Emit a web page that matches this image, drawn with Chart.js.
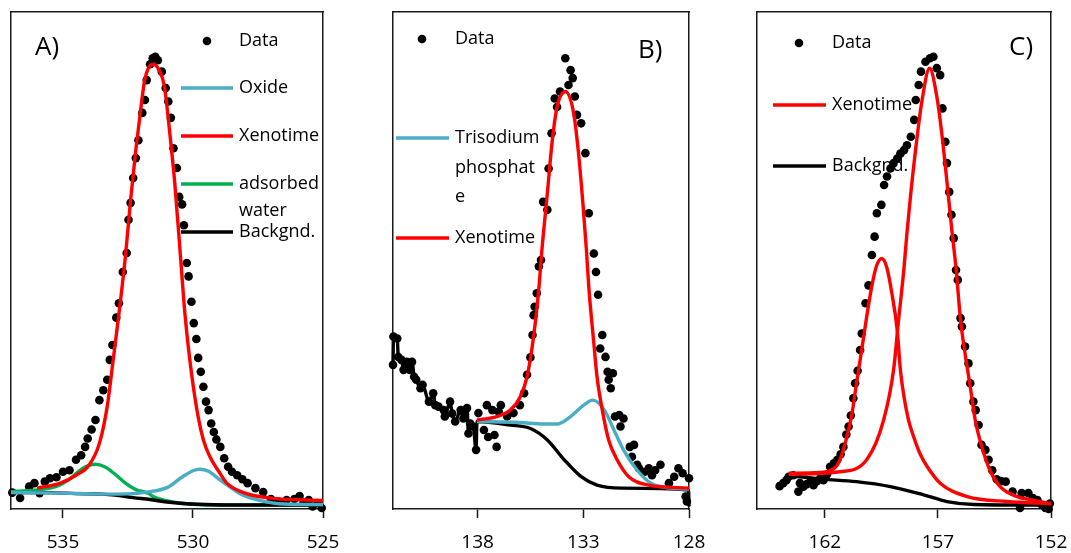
<!DOCTYPE html>
<html>
<head>
<meta charset="utf-8">
<title>XPS fits</title>
<script src="https://cdn.jsdelivr.net/npm/chart.js@4.4.1/dist/chart.umd.min.js"></script>
<style>
    html, body { margin: 0; padding: 0; background: #fff; }
    #wrap { position: relative; width: 1071px; height: 553px; overflow: hidden; }
    canvas { position: absolute; top: 0; }
</style>
</head>
<body>
<div id="wrap">
    <canvas id="panelA" width="350" height="553" style="left:0px"></canvas>
    <canvas id="panelB" width="360" height="553" style="left:350px"></canvas>
    <canvas id="panelC" width="361" height="553" style="left:710px"></canvas>
</div>
<script>
(function () {

    // ---- panel A (O 1s) ----
    const aTicks = [525, 530, 535];
    const aLabels = ['Data', 'Oxide', 'Xenotime', ['adsorbed', 'water'], 'Backgnd.'];
    const aData = [
        [536.95, 3.3], [536.65, 2.2], [536.3, 4.5], [536.1, 5.2], [535.9, 3.2], [535.7, 5.5], [535.5, 6.2],
        [535.25, 6.4], [535.0, 7.5], [534.75, 7.8], [534.5, 9.9], [534.3, 10.8], [534.15, 12.5], [534.05, 14.2],
        [533.9, 16.0], [533.75, 17.9], [533.6, 21.9], [533.45, 23.9], [533.3, 26.0], [533.2, 30.0], [533.1, 33.0],
        [532.95, 38.5], [532.85, 41.4], [532.7, 47.7], [532.55, 51.5], [532.48, 58.2], [532.4, 61.6], [532.3, 66.6],
        [532.2, 70.6], [532.1, 74.2], [531.95, 79.7], [531.85, 82.3], [531.78, 86.3], [531.65, 89.5], [531.55, 90.7],
        [531.45, 91.0], [531.35, 90.3], [531.2, 88.0], [531.05, 84.7], [530.95, 82.0], [530.85, 78.7], [530.75, 72.6],
        [530.62, 68.6], [530.53, 62.8], [530.42, 61.3], [530.35, 57.1], [530.24, 49.5], [530.17, 46.8], [530.06, 41.7],
        [529.97, 37.4], [529.87, 34.2], [529.8, 30.4], [529.7, 27.6], [529.6, 24.6], [529.5, 21.6], [529.4, 19.9],
        [529.3, 17.2], [529.2, 15.5], [529.1, 14.0], [528.95, 12.5], [528.8, 10.2], [528.65, 8.5], [528.5, 7.5],
        [528.3, 6.8], [528.1, 6.0], [527.9, 5.2], [527.6, 4.2], [527.3, 3.4], [527.0, 2.0], [526.7, 1.5],
        [526.4, 1.8], [526.1, 2.0], [525.9, 2.6], [525.75, 1.3], [525.55, 1.8], [525.4, 0.5], [525.2, 1.2], [525.05, 0.2]
    ];
    const aOxide = [
        [537.0, 3.3], [535.0, 3.2], [533.5, 3.0], [532.3, 3.1], [531.8, 3.4], [531.0, 4.3], [530.4, 6.5],
        [530.0, 7.7], [529.75, 8.0], [529.4, 7.6], [529.0, 6.0], [528.6, 4.5], [528.1, 2.8], [527.4, 1.7],
        [526.5, 1.0], [525.0, 0.9]
    ];
    const aXenotime = [
        [536.0, 4.2], [535.1, 5.2], [534.5, 6.8], [534.0, 8.8], [533.6, 13.2], [533.3, 20.6], [533.07, 30.0],
        [532.8, 41.4], [532.6, 50.8], [532.4, 62.2], [532.2, 72.2], [532.0, 80.9], [531.85, 86.5], [531.54, 89.5],
        [531.3, 88.3], [531.1, 85.0], [530.9, 76.0], [530.7, 65.5], [530.5, 52.1], [530.3, 38.7], [530.05, 27.0],
        [529.8, 18.5], [529.6, 13.9], [529.35, 10.5], [529.0, 7.5], [528.7, 5.2], [528.0, 3.2], [527.0, 2.2], [525.0, 1.7]
    ];
    const aWater = [
        [537.0, 3.5], [536.1, 3.8], [535.5, 4.2], [535.1, 4.9], [534.7, 6.2], [534.4, 7.6], [534.1, 8.6],
        [533.75, 9.0], [533.4, 8.5], [533.0, 7.0], [532.6, 5.2], [532.2, 3.9], [531.7, 3.1], [531.5, 2.4],
        [530.5, 1.2], [529.0, 0.8], [525.0, 0.8]
    ];
    const aBackgnd = [
        [537.0, 3.3], [535.5, 3.3], [534.5, 3.1], [533.5, 3.0], [533.0, 2.8], [532.3, 2.3], [531.65, 1.9],
        [531.0, 1.4], [530.4, 1.1], [529.5, 0.9], [528.5, 0.8], [525.0, 0.8]
    ];

    // ---- panel B (P 2p) ----
    const bTicks = [128, 133, 138];
    const bLabels = ['Data', ['Trisodium', 'phosphat', 'e'], 'Xenotime'];
    const bData = [
        [142.0, 29.0], [141.98, 34.7], [141.8, 34.3], [141.75, 30.6], [141.6, 30.0], [141.5, 28.0], [141.35, 29.6],
        [141.2, 28.0], [141.1, 29.6], [141.0, 26.6], [140.9, 26.0], [140.7, 24.3], [140.6, 25.0], [140.3, 21.6],
        [140.1, 23.3], [140.0, 20.9], [139.85, 20.6], [139.6, 19.9], [139.55, 18.6], [139.3, 21.6], [139.2, 19.2],
        [139.06, 17.6], [138.8, 19.9], [138.67, 18.2], [138.5, 20.3], [138.43, 15.2], [138.35, 17.2], [138.2, 16.6],
        [138.07, 11.9], [137.96, 19.3], [137.7, 15.9], [137.56, 20.9], [137.5, 14.5], [137.3, 19.9], [137.2, 14.9],
        [137.1, 12.5], [137.0, 19.6], [136.9, 20.9], [136.6, 18.6], [136.3, 19.3], [136.0, 20.9], [135.8, 23.3],
        [135.66, 27.0], [135.5, 30.5], [135.4, 35.0], [135.35, 39.0], [135.3, 40.7], [135.2, 43.4], [135.1, 48.8],
        [135.0, 50.1], [134.9, 61.8], [134.7, 60.2], [134.64, 68.5], [134.5, 75.6], [134.35, 82.6], [134.24, 80.9],
        [134.1, 84.0], [133.85, 90.7], [133.7, 85.3], [133.6, 88.3], [133.5, 86.7], [133.4, 83.0], [133.3, 79.3],
        [133.1, 77.6], [132.9, 71.6], [132.74, 59.5], [132.5, 51.4], [132.4, 47.7], [132.3, 43.1], [132.2, 32.3],
        [132.1, 35.0], [131.95, 30.6], [131.85, 27.6], [131.8, 26.0], [131.7, 24.3], [131.6, 27.3], [131.5, 18.6],
        [131.3, 18.9], [131.24, 16.6], [131.1, 18.2], [130.8, 12.5], [130.7, 10.5], [130.6, 12.9], [130.45, 8.9],
        [130.37, 8.2], [130.1, 7.5], [129.9, 8.2], [129.75, 6.8], [129.6, 7.8], [129.35, 8.9], [128.95, 5.2],
        [128.7, 6.5], [128.5, 8.2], [128.3, 7.2], [128.16, 2.5], [128.1, 1.5], [128.0, 6.2]
    ];
    const bTrisodium = [
        [138.03, 17.6], [136.0, 17.4], [134.9, 17.1], [134.24, 17.1], [133.6, 18.6], [132.98, 20.9], [132.55, 21.9],
        [132.0, 19.9], [131.55, 15.9], [131.1, 11.9], [130.45, 7.8], [129.8, 5.2], [128.9, 4.2], [128.0, 4.0]
    ];
    const bXenotime = [
        [138.03, 17.9], [137.1, 18.6], [136.45, 19.9], [135.98, 22.6], [135.66, 26.6], [135.35, 34.7], [135.1, 44.5],
        [134.96, 52.0], [134.7, 63.5], [134.48, 73.6], [134.24, 80.9], [133.85, 84.0], [133.45, 79.5], [133.2, 70.5],
        [133.0, 60.5], [132.85, 52.0], [132.74, 44.7], [132.5, 33.3], [132.35, 26.6], [132.1, 19.9], [131.8, 13.9],
        [131.4, 9.9], [130.85, 6.5], [129.9, 4.8], [128.0, 4.2]
    ];
    // background follows the raw data left of 138, then this smooth tail
    const bBackgndTail = [
        [138.03, 17.6], [136.45, 16.9], [135.5, 16.2], [134.7, 13.9], [133.9, 9.9], [133.1, 6.5], [132.35, 4.8],
        [131.2, 4.2], [128.02, 3.8], [128.0, 0.5]
    ];

    // ---- panel C (Y 3d) ----
    const cTicks = [152, 157, 162];
    const cLabels = ['Data', 'Xenotime', 'Backgnd.'];
    const cData = [
        [164.0, 4.6], [163.84, 5.2], [163.7, 5.8], [163.6, 6.5], [163.4, 6.8], [163.17, 3.5], [163.1, 5.2],
        [162.95, 4.5], [162.8, 5.0], [162.64, 5.5], [162.5, 4.8], [162.35, 5.6], [162.2, 6.2], [162.06, 5.8],
        [161.9, 7.0], [161.77, 8.5], [161.6, 9.2], [161.45, 9.9], [161.3, 11.0], [161.18, 12.5], [161.05, 15.0],
        [160.95, 16.6], [160.85, 18.8], [160.74, 22.3], [160.66, 25.3], [160.55, 27.8], [160.44, 32.0], [160.37, 35.3],
        [160.2, 41.4], [160.07, 45.0], [159.92, 51.1], [159.8, 54.8], [159.7, 59.5], [159.5, 61.2], [159.38, 65.2],
        [159.25, 66.9], [159.1, 68.5], [158.96, 69.6], [158.8, 70.5], [158.66, 71.5], [158.5, 72.2], [158.37, 73.2],
        [158.2, 74.9], [158.05, 78.3], [157.98, 82.3], [157.85, 85.3], [157.75, 88.0], [157.55, 90.0], [157.35, 90.7],
        [157.2, 91.0], [157.05, 88.7], [156.9, 87.3], [156.8, 80.6], [156.67, 73.9], [156.6, 69.6], [156.5, 63.8],
        [156.4, 59.2], [156.3, 54.5], [156.2, 48.1], [156.12, 46.1], [156.0, 38.4], [155.94, 36.7], [155.8, 32.7],
        [155.65, 29.3], [155.57, 25.3], [155.43, 21.6], [155.33, 19.9], [155.2, 16.9], [155.07, 12.9], [154.9, 11.9],
        [154.76, 9.9], [154.6, 7.8], [154.4, 6.0], [154.2, 5.6], [154.0, 5.5], [153.7, 3.5], [153.37, 0.2],
        [153.3, 3.2], [153.0, 3.2], [152.8, 2.2], [152.6, 1.8], [152.4, 0.8], [152.25, 0.2], [152.1, 0.0], [152.05, 1.1]
    ];
    const cXenotimeMain = [
        [163.6, 7.0], [161.33, 7.5], [160.15, 9.9], [159.4, 17.9], [158.96, 28.0], [158.74, 38.0], [158.5, 48.5],
        [158.37, 55.5], [158.2, 63.5], [157.9, 75.6], [157.7, 82.3], [157.37, 88.7], [157.05, 83.0], [156.83, 75.6],
        [156.67, 68.9], [156.52, 62.2], [156.37, 55.5], [156.2, 48.5], [156.0, 38.0], [155.8, 31.3], [155.57, 24.6],
        [155.35, 17.9], [155.06, 12.5], [154.7, 7.8], [154.25, 4.5], [153.5, 2.5], [152.8, 1.8], [152.0, 1.0]
    ];
    const cXenotimeSide = [
        [163.6, 7.2], [162.5, 7.3], [161.8, 7.7], [161.4, 9.2], [161.1, 13.2], [160.8, 19.2], [160.6, 25.3],
        [160.37, 32.0], [160.15, 38.7], [159.9, 45.4], [159.7, 49.1], [159.48, 50.4], [159.26, 48.6], [159.04, 43.5],
        [158.8, 36.0], [158.66, 28.0], [158.5, 22.6], [158.3, 17.9], [158.07, 14.5], [157.77, 10.9], [157.47, 8.5],
        [156.9, 5.2], [155.7, 2.5], [153.95, 1.5], [152.0, 1.1]
    ];
    const cBackgndTail = [
        [163.5, 6.6], [162.06, 6.0], [160.6, 5.5], [159.1, 4.5], [157.6, 2.8], [156.6, 1.5], [155.4, 0.9],
        [153.2, 0.8], [152.0, 0.8]
    ];

    const RED = '#ff0000';
    const BLUE = '#4bacc6';
    const GREEN = '#00b050';
    const BLACK = '#000000';
    const FRAME = '#1a1a1a';

    Chart.defaults.font.family = '"Open Sans", "Noto Sans", sans-serif';
    Chart.defaults.color = '#000';

    const toXY = arr => arr.map(p => ({ x: p[0], y: p[1] }));
    const joinLabel = l => Array.isArray(l) ? l.join(' ') : l;

    function dataSet(label, arr) {
        return {
            label: joinLabel(label),
            data: toXY(arr),
            showLine: false,
            pointRadius: 4.3,
            pointBackgroundColor: BLACK,
            pointBorderWidth: 0,
            order: 10,
            clip: false,
        };
    }

    function curveSet(label, arr, color, order) {
        return {
            label: joinLabel(label),
            data: toXY(arr),
            borderColor: color,
            borderWidth: 3.4,
            pointRadius: 0,
            fill: false,
            cubicInterpolationMode: 'monotone',
            order: order,
            clip: false,
        };
    }

    // legend + panel letter, drawn under the datasets like in the original
    function decor(cfg) {
        return {
            id: 'decor',
            beforeDatasetsDraw(chart) {
                const ctx = chart.ctx;
                ctx.save();
                ctx.fillStyle = BLACK;
                ctx.textAlign = 'left';
                ctx.textBaseline = 'middle';
                ctx.font = '26px "Open Sans"';
                ctx.fillText(cfg.tag, cfg.tagX, cfg.tagY);
                ctx.font = '18px "Open Sans"';
                cfg.labels.forEach((label, i) => {
                    const ds = chart.data.datasets[i];
                    const y = cfg.rows[i];
                    if (ds.showLine === false) {
                        ctx.beginPath();
                        ctx.arc(cfg.dotX, y, 4.3, 0, Math.PI * 2);
                        ctx.fill();
                    } else {
                        ctx.strokeStyle = ds.borderColor;
                        ctx.lineWidth = 3.6;
                        ctx.beginPath();
                        ctx.moveTo(cfg.lineX1, y);
                        ctx.lineTo(cfg.lineX2, y);
                        ctx.stroke();
                    }
                    const lines = Array.isArray(label) ? label : [label];
                    lines.forEach((t, k) => ctx.fillText(t, cfg.textX, y + k * cfg.gap));
                });
                ctx.restore();
            }
        };
    }

    function makeChart(id, cfg) {
        const border = { display: true, color: FRAME, width: 1.5 };
        const hidden = { display: false };
        new Chart(document.getElementById(id), {
            type: 'line',
            data: { datasets: cfg.datasets },
            options: {
                responsive: false,
                animation: false,
                events: [],
                layout: { padding: { left: cfg.padLeft, right: cfg.padRight, top: 12, bottom: 0 } },
                plugins: { legend: hidden, tooltip: { enabled: false } },
                scales: {
                    x: {
                        type: 'linear',
                        position: 'bottom',
                        reverse: true,
                        min: cfg.min,
                        max: cfg.max,
                        afterBuildTicks: s => { s.ticks = cfg.ticks.map(v => ({ value: v })); },
                        afterFit: s => { s.height = 44; s.paddingLeft = 0; s.paddingRight = 0; },
                        grid: { display: true, drawOnChartArea: false, drawTicks: true, tickLength: 9, color: FRAME, tickWidth: 1.5 },
                        border: border,
                        ticks: { color: BLACK, font: { size: 19 }, padding: 13, maxRotation: 0, autoSkip: false }
                    },
                    y: {
                        type: 'linear',
                        position: 'left',
                        min: 0,
                        max: 100,
                        afterFit: s => { s.width = 0; s.paddingTop = 0; s.paddingBottom = 0; },
                        grid: hidden,
                        ticks: hidden,
                        border: border
                    },
                    xTop: {
                        type: 'linear',
                        position: 'top',
                        afterFit: s => { s.height = 0; s.paddingLeft = 0; s.paddingRight = 0; },
                        grid: hidden,
                        ticks: hidden,
                        border: border
                    },
                    yRight: {
                        type: 'linear',
                        position: 'right',
                        afterFit: s => { s.width = 0; s.paddingTop = 0; s.paddingBottom = 0; },
                        grid: hidden,
                        ticks: hidden,
                        border: border
                    }
                }
            },
            plugins: [decor(cfg.decor)]
        });
    }

    function build() {
        makeChart('panelA', {
            min: 525, max: 537, ticks: aTicks, padLeft: 11, padRight: 27,
            datasets: [
                dataSet(aLabels[0], aData),
                curveSet(aLabels[1], aOxide, BLUE, 2),
                curveSet(aLabels[2], aXenotime, RED, 1),
                curveSet(aLabels[3], aWater, GREEN, 4),
                curveSet(aLabels[4], aBackgnd, BLACK, 3),
            ],
            decor: {
                tag: 'A)', tagX: 35, tagY: 48, labels: aLabels, rows: [41, 88, 136, 184, 232], gap: 27,
                dotX: 207, lineX1: 181, lineX2: 233, textX: 239
            }
        });

        const bBackgnd = bData.filter(p => p[0] >= 138).concat(bBackgndTail);
        makeChart('panelB', {
            min: 128, max: 142, ticks: bTicks, padLeft: 43, padRight: 21,
            datasets: [
                dataSet(bLabels[0], bData),
                curveSet(bLabels[1], bTrisodium, BLUE, 2),
                curveSet(bLabels[2], bXenotime, RED, 1),
                curveSet('Backgnd.', bBackgnd, BLACK, 3),
            ],
            decor: {
                tag: 'B)', tagX: 288, tagY: 51, labels: bLabels, rows: [39, 138, 238], gap: 29.5,
                dotX: 72, lineX1: 46, lineX2: 99, textX: 105
            }
        });

        const cBackgnd = cData.filter(p => p[0] >= 163.6).concat(cBackgndTail);
        makeChart('panelC', {
            min: 152, max: 165, ticks: cTicks, padLeft: 47, padRight: 20,
            datasets: [
                dataSet(cLabels[0], cData),
                curveSet(cLabels[1], cXenotimeMain, RED, 1),
                curveSet(cLabels[2], cBackgnd, BLACK, 3),
                curveSet('Xenotime', cXenotimeSide, RED, 2),
            ],
            decor: {
                tag: 'C)', tagX: 299, tagY: 48, labels: cLabels, rows: [43, 105, 166], gap: 28,
                dotX: 89, lineX1: 63, lineX2: 116, textX: 122
            }
        });
    }

    Promise.all([
        document.fonts.load('18px "Open Sans"'),
        document.fonts.load('26px "Open Sans"')
    ]).then(build, build);

})();
</script>
</body>
</html>
